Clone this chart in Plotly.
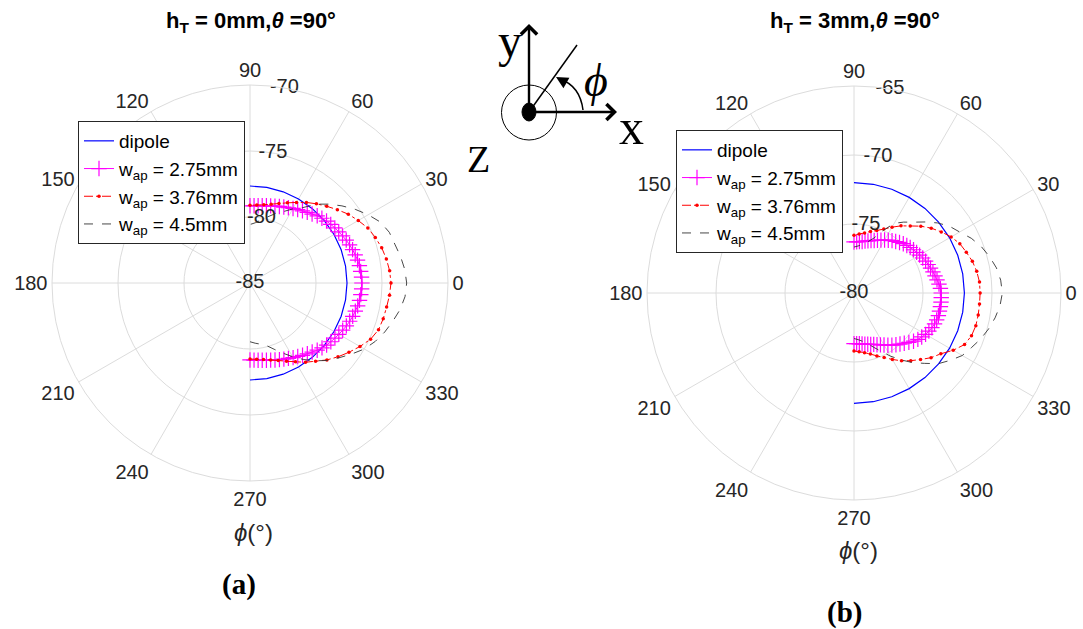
import plotly.graph_objects as go

W, H = 1083, 629

# ---------------- data ----------------
phi_3 = list(range(-90, 91, 3))    # 61 angles (deg)
phi_5 = list(range(-90, 91, 5))    # 37 angles
phi_10 = list(range(-90, 91, 10))  # 19 angles

# (a) h_T = 0 mm
a_dipole = [-77.65, -77.65, -77.65, -77.65, -77.65, -77.65, -77.65, -77.65, -77.65, -77.65,
            -77.65, -77.65, -77.65, -77.65, -77.65, -77.65, -77.65, -77.65, -77.65]
a_w275 = [-79.17, -79.15, -79.12, -79.08, -79.02, -78.95, -78.87, -78.78, -78.69, -78.59,
          -78.47, -78.36, -78.23, -78.10, -77.96, -77.80, -77.66, -77.53, -77.43, -77.33,
          -77.23, -77.12, -77.01, -76.91, -76.82, -76.74, -76.66, -76.60, -76.56, -76.53,
          -76.52,
          -76.54, -76.57, -76.61, -76.67, -76.75, -76.83, -76.92, -77.02, -77.13, -77.24,
          -77.34, -77.44, -77.54, -77.67, -77.80, -77.97, -78.11, -78.24, -78.37, -78.48,
          -78.60, -78.70, -78.79, -78.88, -78.95, -79.02, -79.08, -79.11, -79.14, -79.15]
a_w376 = [-79.24, -79.20, -79.11, -78.96, -78.75, -78.46, -78.11, -77.67, -77.27, -76.76,
          -76.30, -75.85, -75.38, -74.92, -74.64, -74.55, -74.49, -74.39,
          -74.32,
          -74.38, -74.51, -74.67, -74.90, -75.15, -75.53, -75.91, -76.36, -76.78, -77.17,
          -77.55, -77.95, -78.30, -78.59, -78.82, -78.98, -79.07, -79.11]
a_w45 = [-80.55, -80.42, -80.29, -80.08, -79.66, -79.14, -78.56, -77.92, -77.31, -76.70,
         -76.19, -75.61, -75.00, -74.53, -74.14, -73.80, -73.45, -73.21,
         -73.13,
         -73.23, -73.42, -73.64, -73.77, -74.09, -74.66, -75.27, -75.91, -76.55, -77.20,
         -78.03, -78.52, -79.03, -79.41, -79.81, -80.15, -80.42, -80.57]

# (b) h_T = 3 mm
b_dipole = [-72.0, -72.0, -72.0, -72.0, -72.0, -72.0, -72.0, -72.0, -72.0, -72.0,
            -72.0, -72.0, -72.0, -72.0, -72.0, -72.0, -72.0, -72.0, -72.0]
b_w275 = [-76.33, -76.32, -76.30, -76.26, -76.21, -76.15, -76.08, -76.01, -75.90, -75.78,
          -75.65, -75.49, -75.33, -75.17, -75.02, -74.85, -74.65, -74.45, -74.28, -74.15,
          -74.01, -73.91, -73.82, -73.75, -73.70, -73.67, -73.67, -73.66, -73.66, -73.67,
          -73.68,
          -73.73, -73.81, -73.91, -74.00, -74.08, -74.17, -74.24, -74.32, -74.41, -74.51,
          -74.59, -74.67, -74.76, -74.85, -74.95, -75.07, -75.20, -75.31, -75.44, -75.57,
          -75.70, -75.82, -75.92, -76.01, -76.09, -76.16, -76.22, -76.26, -76.29, -76.30]
b_w376 = [-75.80, -75.72, -75.61, -75.42, -75.15, -74.84, -74.44, -74.00, -73.60, -73.18,
          -72.71, -72.32, -71.70, -71.16, -70.94, -70.86, -70.86, -70.87,
          -70.86,
          -70.87, -70.97, -71.12, -71.34, -71.54, -71.87, -72.28, -72.69, -73.15, -73.66,
          -74.06, -74.49, -74.89, -75.18, -75.38, -75.58, -75.71, -75.82]
b_w45 = [-76.70, -76.61, -76.45, -76.20, -75.81, -75.33, -74.72, -74.09, -73.42, -72.79,
         -72.03, -71.49, -70.94, -70.62, -70.24, -69.91, -69.62, -69.38,
         -69.25,
         -69.33, -69.52, -69.83, -70.18, -70.62, -71.16, -71.56, -72.10, -72.72, -73.30,
         -73.73, -74.17, -75.00, -75.76, -76.16, -76.41, -76.58, -76.67]

names = ["dipole", "w<sub>ap</sub> = 2.75mm", "w<sub>ap</sub> = 3.76mm", "w<sub>ap</sub> = 4.5mm"]
angle_ticks = list(range(0, 360, 30))
a_rticks = [-85, -80, -75, -70]
b_rticks = [-80, -75, -70, -65]
r_label_angle = 80   # MATLAB-style radial tick label location (deg)
titles = ["<b>h<sub>T</sub> = 0mm,<i>θ</i> =90°</b>", "<b>h<sub>T</sub> = 3mm,<i>θ</i> =90°</b>"]

# ---------------- helpers ----------------
def px(x):
    return x / W

def py(y):
    return 1 - y / H

SANS = "Liberation Sans"
SERIF = "Liberation Serif"
GRID = "#dcdcdc"
TICK = "#262626"

fig = go.Figure()

def add_set(subplot, legend, dip, w275, w376, w45, rticks):
    fig.add_trace(go.Scatterpolar(theta=phi_10, r=dip, mode="lines", name=names[0],
                                  line=dict(color="#0000ff", width=1.2),
                                  subplot=subplot, legend=legend))
    fig.add_trace(go.Scatterpolar(theta=phi_3, r=w275, mode="lines+markers", name=names[1],
                                  line=dict(color="#ff00ff", width=1),
                                  marker=dict(symbol="cross-thin", size=11,
                                              line=dict(color="#ff00ff", width=1.2)),
                                  subplot=subplot, legend=legend))
    fig.add_trace(go.Scatterpolar(theta=phi_5, r=w376, mode="lines+markers", name=names[2],
                                  line=dict(color="#ff0000", width=1, dash="dashdot"),
                                  marker=dict(symbol="circle", size=3.5, color="#ff0000"),
                                  subplot=subplot, legend=legend))
    fig.add_trace(go.Scatterpolar(theta=phi_5, r=w45, mode="lines", name=names[3],
                                  line=dict(color="#333333", width=0.9, dash="dash"),
                                  subplot=subplot, legend=legend))
    # radial tick labels, placed along the 80 deg ray through the polar scale
    fig.add_trace(go.Scatterpolar(theta=[r_label_angle] * len(rticks), r=rticks,
                                  mode="text", text=[str(t) for t in rticks],
                                  textposition="middle center",
                                  textfont=dict(family=SANS, size=20, color=TICK),
                                  cliponaxis=False, showlegend=False, hoverinfo="skip",
                                  subplot=subplot))

add_set("polar", "legend", a_dipole, a_w275, a_w376, a_w45, a_rticks)
add_set("polar2", "legend2", b_dipole, b_w275, b_w376, b_w45, b_rticks)

def polar_layout(xd, yd, rticks):
    return dict(
        domain=dict(x=xd, y=yd),
        bgcolor="white",
        angularaxis=dict(direction="counterclockwise", rotation=0,
                         tickmode="array", tickvals=angle_ticks,
                         ticktext=[str(t) for t in angle_ticks],
                         showline=True, linecolor=GRID, linewidth=1,
                         gridcolor=GRID, gridwidth=1, ticks="",
                         tickfont=dict(family=SANS, size=20, color=TICK)),
        radialaxis=dict(range=[rticks[0], rticks[-1]], tickmode="array",
                        tickvals=rticks, showticklabels=False,
                        angle=r_label_angle, showline=False, ticks="",
                        gridcolor=GRID, gridwidth=1),
    )

legend_common = dict(xanchor="left", yanchor="top", bgcolor="white",
                     bordercolor=TICK, borderwidth=1,
                     font=dict(family=SANS, size=19, color="black"),
                     tracegroupgap=0, itemwidth=30)

def label(text, x, y, family, size, color="black"):
    return dict(text=text, x=px(x), y=py(y), xref="paper", yref="paper", showarrow=False,
                xanchor="center", yanchor="middle",
                font=dict(family=family, size=size, color=color))

annotations = [
    label(titles[0], 251, 22, SANS, 22),
    label(titles[1], 855, 22, SANS, 22),
    label("<i>ϕ</i>(°)", 253, 532, SANS, 24, TICK),
    label("<i>ϕ</i>(°)", 858, 550, SANS, 24, TICK),
    label("<b>(a)</b>", 239, 584, SERIF, 29),
    label("<b>(b)</b>", 844, 612, SERIF, 29),
    # coordinate sketch labels
    label("y", 510, 40, SERIF, 48),
    label("x", 631, 127, SERIF, 50),
    label("Z", 478, 159, SERIF, 38),
    label("<i>ϕ</i>", 596, 80, SERIF, 46),
    # arrows
    dict(text="", x=px(529), y=py(24), xref="paper", yref="paper", showarrow=True,
         ax=0, ay=88, arrowhead=4, arrowsize=1.3, arrowwidth=2.4, arrowcolor="black"),
    dict(text="", x=px(617), y=py(112), xref="paper", yref="paper", showarrow=True,
         ax=-88, ay=0, arrowhead=4, arrowsize=1.3, arrowwidth=2.4, arrowcolor="black"),
    dict(text="", x=px(556), y=py(77), xref="paper", yref="paper", showarrow=True,
         ax=7, ay=4, arrowhead=2, arrowsize=1.6, arrowwidth=1.5, arrowcolor="black"),
]

shapes = [
    dict(type="circle", xref="paper", yref="paper", x0=px(501.5), x1=px(556.5),
         y0=py(140), y1=py(85), line=dict(color="black", width=1)),
    dict(type="circle", xref="paper", yref="paper", x0=px(522), x1=px(536),
         y0=py(121), y1=py(103), fillcolor="black", line=dict(color="black", width=1)),
    dict(type="line", xref="paper", yref="paper", x0=px(529), y0=py(112), x1=px(577), y1=py(45),
         line=dict(color="black", width=1.5)),
    dict(type="path", xref="paper", yref="paper",
         path=f"M {px(583)},{py(110)} Q {px(580)},{py(86)} {px(560)},{py(79)}",
         line=dict(color="black", width=1.5)),
]

fig.update_layout(
    width=W, height=H,
    margin=dict(l=0, r=0, t=0, b=0),
    paper_bgcolor="white", plot_bgcolor="white",
    polar=polar_layout([px(52), px(448)], [py(481), py(85)], a_rticks),
    polar2=polar_layout([px(647), px(1061)], [py(500), py(86)], b_rticks),
    legend=dict(x=px(78), y=py(121), **legend_common),
    legend2=dict(x=px(676), y=py(130), **legend_common),
    annotations=annotations,
    shapes=shapes,
)

fig.write_html("out.html", config={"displayModeBar": False},
               post_script="document.body.style.margin='0';")
